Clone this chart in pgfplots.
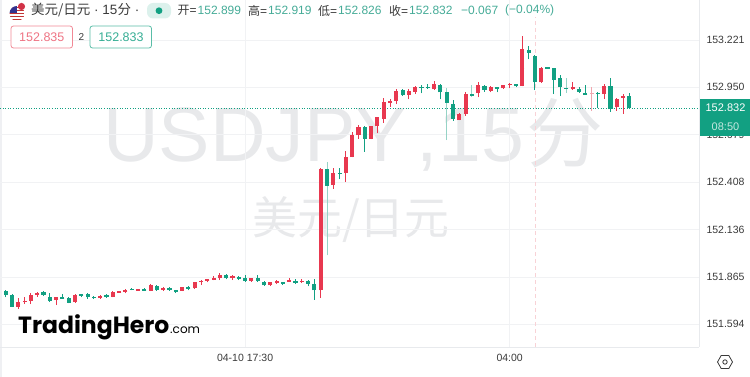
\documentclass[border=0pt]{standalone}
\usepackage{pgfplots}
\usepackage{pgfplotstable}
\usepackage{fontspec}
\pgfplotsset{compat=1.18}
\setmainfont{Liberation Sans}
\newfontfamily\cjk{Noto Sans CJK SC}
\newfontfamily\logofont{Poppins}
\definecolor{cred}{HTML}{E8384F}
\definecolor{cgreen}{HTML}{12A082}
\definecolor{pred}{HTML}{F0A6AE}
\definecolor{pgreen}{HTML}{96D3C6}
\definecolor{grid}{HTML}{F1F2F4}
\definecolor{edge}{HTML}{E8EAED}
\definecolor{wm}{HTML}{E8E9EB}
\definecolor{numg}{HTML}{45AB97}
\definecolor{dark}{HTML}{3A3A3A}
\pgfplotstableread{
i o h l c
2 151.694 151.742 151.683 151.723
3 151.723 151.752 151.710 151.727
4 151.727 151.775 151.710 151.761
5 151.761 151.780 151.752 151.775
8 151.732 151.752 151.704 151.748
11 151.721 151.767 151.717 151.761
15 151.744 151.763 151.740 151.757
17 151.752 151.786 151.748 151.780
18 151.780 151.786 151.776 151.782
19 151.782 151.797 151.771 151.786
21 151.790 151.797 151.786 151.792
23 151.786 151.824 151.784 151.818
25 151.790 151.809 151.784 151.803
28 151.786 151.809 151.784 151.807
30 151.799 151.838 151.797 151.834
31 151.838 151.847 151.818 151.843
32 151.847 151.855 151.834 151.851
33 151.849 151.868 151.845 151.860
34 151.857 151.889 151.847 151.876
36 151.857 151.874 151.847 151.868
39 151.841 151.860 151.838 151.857
42 151.817 151.838 151.815 151.834
43 151.832 151.845 151.824 151.839
45 151.839 151.859 151.836 151.845
47 151.839 151.853 151.830 151.843
50 151.788 152.489 151.743 152.482
52 152.392 152.489 152.371 152.459
54 152.461 152.585 152.409 152.552
55 152.550 152.696 152.549 152.675
56 152.675 152.734 152.657 152.724
58 152.654 152.730 152.652 152.726
59 152.726 152.782 152.686 152.778
60 152.770 152.887 152.747 152.864
61 152.866 152.885 152.839 152.868
62 152.873 152.940 152.854 152.931
64 152.906 152.938 152.881 152.931
65 152.925 152.955 152.911 152.950
68 152.940 152.984 152.934 152.969
72 152.762 152.805 152.761 152.797
73 152.795 152.921 152.787 152.913
75 152.915 152.982 152.892 152.961
77 152.929 152.957 152.921 152.950
79 152.944 152.965 152.942 152.961
80 152.965 152.976 152.944 152.969
82 152.957 153.244 152.955 153.167
85 152.978 153.068 152.976 153.060
90 152.938 152.982 152.934 152.950
95 152.911 152.969 152.883 152.955
97 152.835 152.887 152.816 152.885
98 152.890 152.911 152.799 152.902
}\redT
\pgfplotstableread{
i o h l c
0 151.784 151.790 151.748 151.761
1 151.761 151.765 151.692 151.694
6 151.776 151.786 151.757 151.761
7 151.752 151.771 151.721 151.729
9 151.746 151.767 151.740 151.742
10 151.742 151.748 151.713 151.717
12 151.763 151.767 151.748 151.759
13 151.765 151.775 151.740 151.748
14 151.748 151.757 151.738 151.744
16 151.757 151.765 151.746 151.754
20 151.794 151.803 151.788 151.792
22 151.794 151.801 151.788 151.790
24 151.813 151.818 151.786 151.788
26 151.803 151.809 151.786 151.790
27 151.786 151.790 151.773 151.784
29 151.809 151.815 151.788 151.796
35 151.874 151.880 151.851 151.857
37 151.862 151.872 151.847 151.859
38 151.860 151.878 151.836 151.841
40 151.860 151.876 151.838 151.841
41 151.838 151.839 151.815 151.817
44 151.834 151.838 151.818 151.830
46 151.839 151.851 151.824 151.836
48 151.842 151.846 151.811 151.825
49 151.823 151.855 151.735 151.788
53 152.459 152.489 152.423 152.455
57 152.724 152.728 152.581 152.654
63 152.936 152.940 152.900 152.904
66 152.950 152.961 152.915 152.948
67 152.953 152.969 152.942 152.946
69 152.965 152.967 152.881 152.921
71 152.852 152.877 152.759 152.770
76 152.959 152.963 152.925 152.934
78 152.950 152.951 152.921 152.942
81 152.969 152.972 152.951 152.955
83 153.165 153.186 153.110 153.148
84 153.131 153.133 152.934 152.978
86 153.062 153.064 153.056 153.058
87 153.058 153.060 152.911 152.994
88 153.001 153.020 152.900 152.950
91 152.940 152.950 152.919 152.923
92 152.917 152.963 152.909 152.911
94 152.919 152.921 152.829 152.915
96 152.957 153.005 152.810 152.824
99 152.899 152.919 152.826 152.832
}\greenT
\pgfplotstableread{
i o h l c
51 152.480 152.520 151.989 152.386
70 152.925 152.944 152.648 152.862
74 152.909 152.963 152.896 152.904
89 152.946 153.001 152.919 152.942
}\paleGreenT
\pgfplotstableread{
i o h l c
93 152.913 152.950 152.814 152.917
}\paleRedT
% table, wick colour, body colour, body low column, body high column
\newcommand\candles[5]{%
  \addplot[draw=none, mark=none, forget plot, error bars/.cd, y dir=plus, y explicit, error mark=none,
    error bar style={line width=0.9pt, color=#2}]
    table[x=i, y=l, y error expr=\thisrow{h}-\thisrow{l}] {#1};
  \addplot[draw=none, mark=none, forget plot, error bars/.cd, y dir=plus, y explicit, error mark=none,
    error bar style={line width=4.1pt, color=#3}]
    table[x=i, y=#4, y error expr=\thisrow{#5}-\thisrow{#4}] {#1};
  \addplot[only marks, mark=-, mark size=2.05pt, mark options={color=#3, line width=1.5pt}, forget plot]
    table[x=i, y expr=(\thisrow{o}+\thisrow{c})/2] {#1};
}
\begin{document}
\begin{tikzpicture}
\useasboundingbox (0,0) rectangle (750pt,377pt);
\begin{scope}[x=1pt,y=-1pt,shift={(0,377pt)}]
  \node[text=wm,anchor=base west,inner sep=0,font=\fontsize{77}{77}\selectfont] at (103,162) {USDJPY\kern10pt,15\kern2pt{\cjk 分}};
  \node[text=wm,anchor=center,inner sep=0,font=\cjk\fontsize{45}{45}\selectfont] at (351,220) {美元/日元};
  \fill[edge!70] (0,0) rectangle (2,377);
\end{scope}
\begin{axis}[
  at={(0,30pt)}, anchor=south west,
  scale only axis, width=699pt, height=347pt,
  xmin=-0.905, xmax=110.05, ymin=151.464, ymax=153.450,
  axis x line*=bottom, axis y line*=right,
  axis line style={draw=edge, line width=0.8pt},
  tick style={draw=none},
  grid=major, grid style={draw=grid, line width=0.8pt},
  xtick={38,80}, xticklabels={04-10 17:30,04:00},
  ytick={151.594,151.865,152.136,152.408,152.679,152.950,153.221},
  yticklabels={151.594,151.865,152.136,152.408,152.679,152.950,153.221},
  tick label style={font=\fontsize{10.5}{10.5}\selectfont, text=dark},
  yticklabel style={anchor=west, xshift=4pt},
  xticklabel style={yshift=-3.5pt},
]
\addplot[forget plot, color=pred!50, dash pattern=on 4pt off 3pt, line width=0.7pt] coordinates {(84,151.464) (84,153.35)};
\addplot[forget plot, color=cgreen, dash pattern=on 1pt off 1.6pt, line width=0.8pt] coordinates {(-0.905,152.832) (110.05,152.832)};
\candles{\paleGreenT}{pgreen}{cgreen}{c}{o}
\candles{\paleRedT}{pred}{pred}{o}{c}
\candles{\redT}{cred}{cred}{o}{c}
\candles{\greenT}{cgreen}{cgreen}{c}{o}
\end{axis}
\begin{scope}[x=1pt,y=-1pt,shift={(0,377pt)}]
  % flag
  \begin{scope}
    \clip (17,13.5) circle (7.5);
    \fill[white] (9,5) rectangle (25,22);
    \foreach \yy in {7,10,13,16,19} \fill[red!70!black!80] (9,\yy) rectangle (25,\yy+1.5);
    \fill[blue!45!black!80] (9,5) rectangle (17,13.5);
  \end{scope}
  \fill[cred!90!black] (21.5,6.5) circle (3.6);
  % header
  \node[anchor=west,inner sep=0,text=dark,font=\fontsize{13.5}{13.5}\selectfont] at (31,10.5) {{\cjk 美元/日元} · 15{\cjk 分} ·};
  \fill[cgreen!15,rounded corners=6pt] (147,3) rectangle (171,18.5);
  \fill[cgreen] (159,10.7) circle (3.4);
  \begin{scope}[every node/.style={anchor=west,inner sep=0,font=\fontsize{12}{12}\selectfont}]
    \node[text=dark] at (177.5,10.5) {{\cjk 开}=};
    \node[text=numg] at (197.5,10.5) {152.899};
    \node[text=dark] at (248,10.5) {{\cjk 高}=};
    \node[text=numg] at (268,10.5) {152.919};
    \node[text=dark] at (318,10.5) {{\cjk 低}=};
    \node[text=numg] at (338,10.5) {152.826};
    \node[text=dark] at (389,10.5) {{\cjk 收}=};
    \node[text=numg] at (409,10.5) {152.832};
    \node[text=numg] at (461,10.5) {−0.067};
    \node[text=numg] at (505,10.5) {(−0.04\%)};
  \end{scope}
  % order boxes
  \draw[color=cred!60,rounded corners=2.5pt,line width=0.8pt,fill=white] (11,26) rectangle (72.5,48);
  \node[text=cred!70,inner sep=0,font=\fontsize{12.5}{12.5}\selectfont] at (41.8,37.5) {152.835};
  \node[text=dark,inner sep=0,font=\fontsize{10}{10}\selectfont] at (81.5,37.5) {2};
  \draw[color=cgreen!70,rounded corners=2.5pt,line width=0.8pt,fill=white] (90,26) rectangle (151.5,48);
  \node[text=cgreen!85,inner sep=0,font=\fontsize{12.5}{12.5}\selectfont] at (121,37.5) {152.833};
  % badge
  \fill[cgreen] (700,98.7) rectangle (750,136);
  \node[text=white,inner sep=0,font=\fontsize{11}{11}\selectfont] at (725.5,108) {152.832};
  \node[text=white!75!cgreen,inner sep=0,font=\fontsize{11}{11}\selectfont] at (725.5,126.5) {08:50};
  % logo
  \node[anchor=base west,inner sep=0,text=black,font=\logofont\bfseries\fontsize{23.5}{23.5}\selectfont] at (18,334) {TradingHero};
  \node[anchor=base west,inner sep=0,text=black,font=\logofont\fontsize{12}{12}\selectfont] at (170,334) {.com};
  % settings icon
  \draw[color=dark,line width=0.8pt,line join=round] (717.5,362) -- (721.2,355.5) -- (728.8,355.5) -- (732.5,362) -- (728.8,368.5) -- (721.2,368.5) -- cycle;
  \draw[color=dark,line width=0.8pt] (725,362) circle (2.2);
\end{scope}
\end{tikzpicture}
\end{document}
